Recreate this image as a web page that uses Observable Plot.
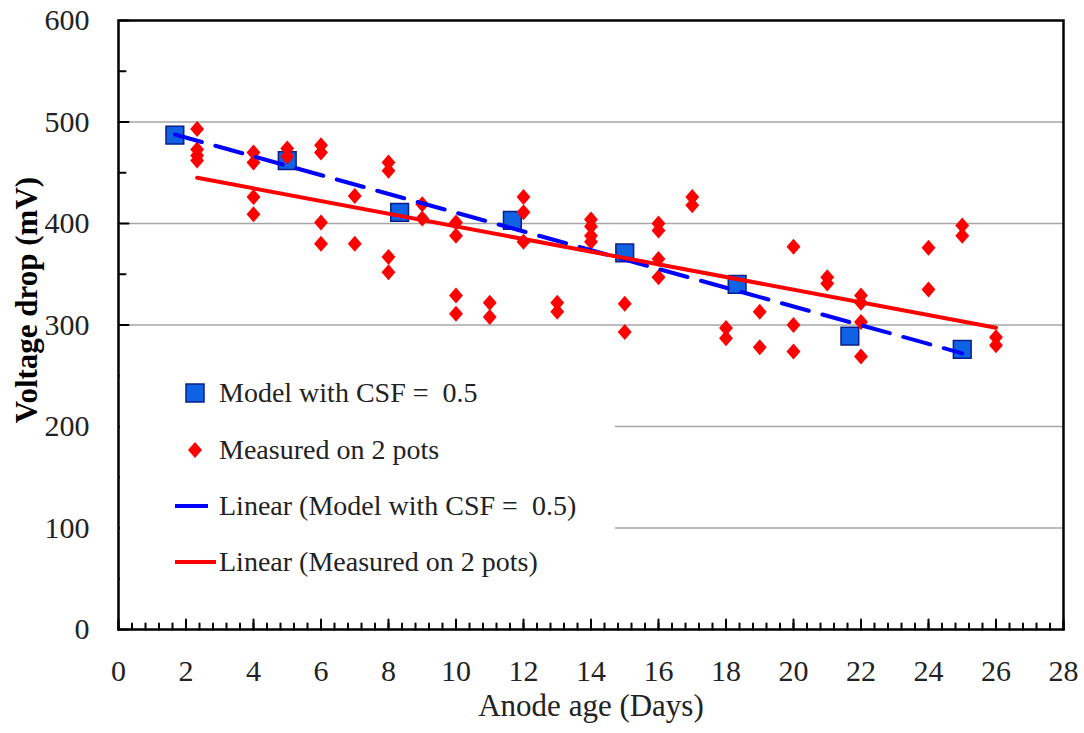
<!DOCTYPE html>
<html>
<head>
<meta charset="utf-8">
<script src="https://cdn.jsdelivr.net/npm/d3@7"></script>
<script src="https://cdn.jsdelivr.net/npm/@observablehq/plot@0.6"></script>
<style>
  body { margin: 0; background: #fff; }
  #wrap { position: relative; width: 1084px; height: 733px; background: #fff; }
  #legend { position: absolute; left: 0; top: 0; }
  #wrap svg text { font-family: 'Liberation Serif', 'Times New Roman', serif; }
</style>
</head>
<body>
<div id="wrap"></div>
<script>
// ---- data ----
const modelDays    = [1.67, 5, 8.33, 11.67, 15, 18.33, 21.67, 25];
const modelVoltage = [487, 462, 411, 403, 371, 340, 289, 276];

const measuredDays = [
  2.33, 2.33, 2.33, 2.33,
  4, 4, 4, 4,
  5, 5,
  6, 6, 6, 6,
  7, 7,
  8, 8, 8, 8,
  9, 9,
  10, 10, 10, 10,
  11, 11,
  12, 12, 12,
  13, 13,
  14, 14, 14, 14,
  15, 15,
  16, 16, 16, 16,
  17, 17,
  18, 18,
  19, 19,
  20, 20, 20,
  21, 21,
  22, 22, 22, 22,
  24, 24,
  25, 25,
  26, 26
];
const measuredVoltage = [
  493, 473, 467, 462,
  470, 460, 426, 409,
  474, 466,
  477, 470, 401, 380,
  427, 380,
  460, 452, 367, 352,
  419, 405,
  401, 388, 329, 311,
  322, 308,
  426, 411, 382,
  322, 313,
  404, 397, 388, 382,
  321, 293,
  400, 393, 365, 347,
  426, 418,
  297, 287,
  313, 278,
  377, 300, 274,
  347, 341,
  329, 322, 303, 269,
  376, 335,
  398, 388,
  288, 280
];

const xMajorTicks = [0, 2, 4, 6, 8, 10, 12, 14, 16, 18, 20, 22, 24, 26, 28];
const xMinorTicks = d3.range(0, 28.001, 0.4).map(v => +v.toFixed(1));
const yMajorTicks = [0, 100, 200, 300, 400, 500, 600];
const yMinorTicks = [50, 150, 250, 350, 450, 550];
const yGridLines  = [100, 200, 300, 400, 500];

const seriesNames = ["Model with CSF =  0.5", "Measured on 2 pots"];
const trendNames  = ["Linear (Model with CSF =  0.5)", "Linear (Measured on 2 pots)"];
const xTitle = "Anode age (Days)";
const yTitle = "Voltage drop (mV)";

// ---- tables ----
const model = modelDays.map((d, i) => ({day: d, v: modelVoltage[i]}));
const measured = measuredDays.map((d, i) => ({day: d, v: measuredVoltage[i]}));

// ---- styling helpers ----
const font = "'Liberation Serif', 'Times New Roman', serif";
const squareFill = "#1062E4", squareStroke = "#0A1E8A";
const red = "#FF0000", blue = "#0000FF";
const tickShape = {draw(ctx, l) { ctx.moveTo(0, 0); ctx.lineTo(0, -l); }};
const diamond = {draw(ctx, size) {
  const r = Math.sqrt(size / Math.PI);
  ctx.moveTo(0, -r); ctx.lineTo(r * 0.87, 0); ctx.lineTo(0, r); ctx.lineTo(-r * 0.87, 0); ctx.closePath();
}};

const chart = Plot.plot({
  width: 1084, height: 733,
  marginLeft: 118, marginRight: 21, marginTop: 20, marginBottom: 104,
  style: {fontFamily: font, background: "white", color: "black", overflow: "visible"},
  x: {domain: [0, 28]},
  y: {domain: [0, 600]},
  marks: [
    Plot.gridY(yGridLines, {stroke: "#a6a6a6", strokeOpacity: 1, strokeWidth: 1.5}),
    Plot.dot(model, {x: "day", y: "v", symbol: "square", r: 10, fill: squareFill, stroke: squareStroke, strokeWidth: 1.5}),
    Plot.dot(measured, {x: "day", y: "v", symbol: diamond, r: 8, fill: red}),
    Plot.linearRegressionY(model, {x: "day", y: "v", stroke: blue, strokeWidth: 4, strokeDasharray: "28,14", ci: 0}),
    Plot.linearRegressionY(measured, {x: "day", y: "v", stroke: red, strokeWidth: 4, ci: 0}),
    Plot.vector(xMinorTicks, {x: d => d, frameAnchor: "bottom", length: 6, anchor: "start", shape: tickShape, stroke: "black", strokeWidth: 2}),
    Plot.vector(xMajorTicks, {x: d => d, frameAnchor: "bottom", length: 10, anchor: "start", shape: tickShape, stroke: "black", strokeWidth: 2}),
    Plot.vector(yMinorTicks, {y: d => d, frameAnchor: "left", rotate: 90, length: 7, anchor: "start", shape: tickShape, stroke: "black", strokeWidth: 2}),
    Plot.vector(yMajorTicks, {y: d => d, frameAnchor: "left", rotate: 90, length: 10, anchor: "start", shape: tickShape, stroke: "black", strokeWidth: 2}),
    Plot.axisX({ticks: xMajorTicks, tickSize: 0, tickPadding: 30, fontSize: 30, fontFamily: font, fontVariant: "normal", label: null, tickFormat: d => d, fill: "#222"}),
    Plot.axisY({ticks: yMajorTicks, tickSize: 0, tickPadding: 29, fontSize: 30, fontFamily: font, fontVariant: "normal", label: null, tickFormat: d => d, fill: "#222"}),
    Plot.frame({stroke: "black", strokeWidth: 2.5}),
    Plot.text([xTitle], {text: d => d, frameAnchor: "bottom", dy: 86, fontSize: 31, fontFamily: font, fill: "#222"}),
    Plot.text([yTitle], {text: d => d, frameAnchor: "left", textAnchor: "middle", dx: -91, dy: -25, rotate: -90, fontSize: 31, fontFamily: font, fontWeight: "bold", fill: "black"})
  ]
});

const wrap = document.getElementById("wrap");
wrap.appendChild(chart);

// ---- legend (overlay inside plot area, white box) ----
const lg = d3.select(wrap).append("svg")
  .attr("id", "legend")
  .attr("width", 1084).attr("height", 733)
  .style("pointer-events", "none");
lg.append("rect").attr("x", 120).attr("y", 342).attr("width", 495).attr("height", 262).attr("fill", "white");
const rowY = [393, 450, 506, 562];
const labels = [seriesNames[0], seriesNames[1], trendNames[0], trendNames[1]];
lg.append("rect").attr("x", 195 - 9).attr("y", rowY[0] - 9).attr("width", 18).attr("height", 18)
  .attr("fill", squareFill).attr("stroke", squareStroke).attr("stroke-width", 1.5);
lg.append("path").attr("d", `M195,${rowY[1]-8}L${195+7},${rowY[1]}L195,${rowY[1]+8}L${195-7},${rowY[1]}Z`).attr("fill", red);
lg.append("line").attr("x1", 175).attr("x2", 208).attr("y1", rowY[2]).attr("y2", rowY[2]).attr("stroke", blue).attr("stroke-width", 4);
lg.append("line").attr("x1", 175).attr("x2", 216).attr("y1", rowY[3]).attr("y2", rowY[3]).attr("stroke", red).attr("stroke-width", 4);
labels.forEach((t, i) => {
  lg.append("text").attr("x", 219).attr("y", rowY[i] + 9)
    .style("white-space", "pre")
    .attr("font-family", font).attr("font-size", 28).attr("fill", "#222")
    .text(t);
});
</script>
</body>
</html>
